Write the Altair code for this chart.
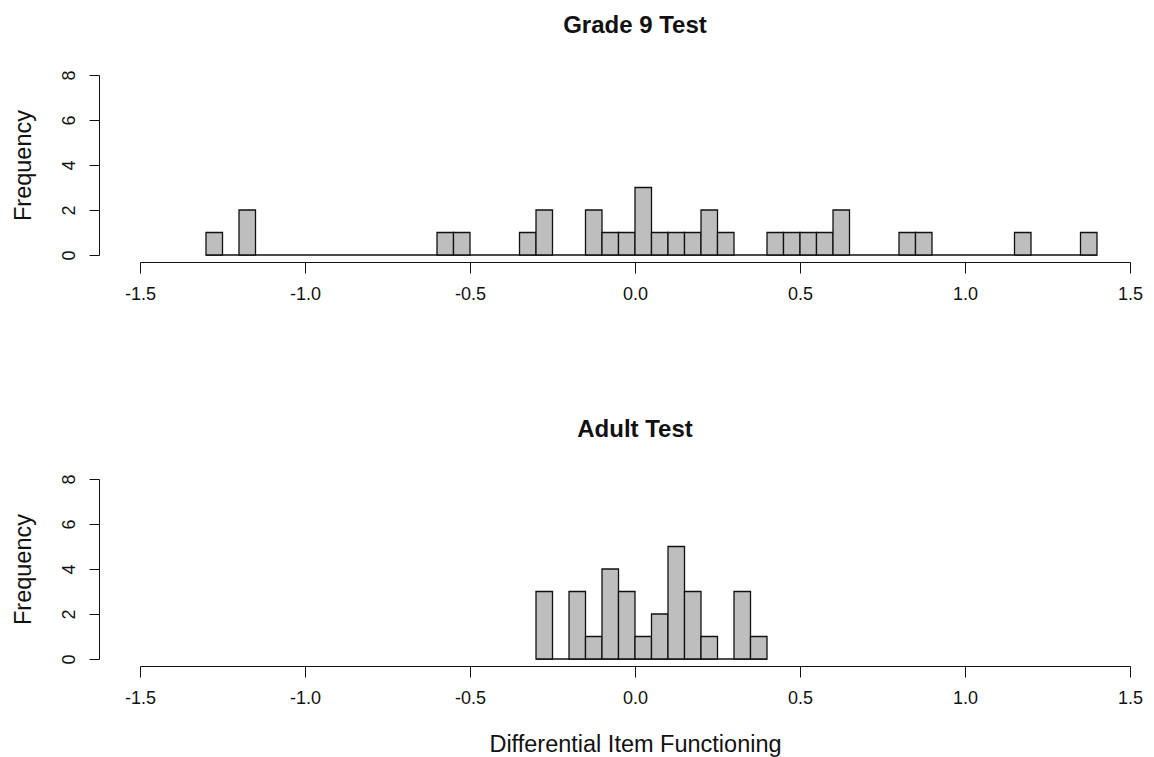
import altair as alt
import pandas as pd

FONT = "Liberation Sans"
INK = "#111111"
BIN_WIDTH = 0.05

# Grade 9 test: left edges of the non-empty bins and their counts
grade9_starts = [-1.30, -1.20, -0.60, -0.55, -0.35, -0.30, -0.15, -0.10, -0.05, 0.00,
                 0.05, 0.10, 0.15, 0.20, 0.25, 0.40, 0.45, 0.50, 0.55, 0.60,
                 0.80, 0.85, 1.15, 1.35]
grade9_counts = [1, 2, 1, 1, 1, 2, 2, 1, 1, 3,
                 1, 1, 1, 2, 1, 1, 1, 1, 1, 2,
                 1, 1, 1, 1]

# Adult test
adult_starts = [-0.30, -0.20, -0.15, -0.10, -0.05, 0.00, 0.05, 0.10, 0.15, 0.20, 0.30, 0.35]
adult_counts = [3, 3, 1, 4, 3, 1, 2, 5, 3, 1, 3, 1]

x_ticks = [-1.5, -1.0, -0.5, 0.0, 0.5, 1.0, 1.5]
y_ticks = [0, 2, 4, 6, 8]


def histogram(starts, counts, title, xtitle=None):
    bins = pd.DataFrame({"left": starts, "count": counts})
    bins["right"] = bins["left"] + BIN_WIDTH
    # empty bins between the first and last edge show as a line along zero
    base = pd.DataFrame({"lo": [min(starts)], "hi": [max(starts) + BIN_WIDTH], "zero": [0]})

    xs = alt.Scale(domain=[-1.5, 1.5], nice=False, zero=False)
    ys = alt.Scale(domain=[0, 8], nice=False)

    x_axis = alt.Axis(values=x_ticks, offset=7, tickSize=11, labelPadding=12,
                      labelExpr="replace(format(datum.value, '.1f'), '\u2212', '-')",
                      grid=False, domainColor=INK, tickColor=INK, labelColor=INK,
                      labelFontSize=18, labelFont=FONT, titleFont=FONT, titleFontSize=23.5,
                      titleFontWeight="normal", titleColor=INK, titlePadding=25,
                      labelFlush=False, title=xtitle)
    y_axis = alt.Axis(values=y_ticks, offset=41, tickSize=10, labelAngle=270, labelAlign="center",
                      labelBaseline="alphabetic", labelPadding=15, grid=False,
                      domainColor=INK, tickColor=INK, labelColor=INK,
                      labelFontSize=18, labelFont=FONT, titleFont=FONT, titleFontSize=23.5,
                      titleFontWeight="normal", titleColor=INK, titlePadding=25,
                      title="Frequency")

    baseline = alt.Chart(base).mark_rule(color=INK, strokeWidth=1.3).encode(
        x=alt.X("lo:Q", scale=xs, axis=x_axis),
        x2="hi:Q",
        y=alt.Y("zero:Q", scale=ys, axis=y_axis),
    )
    bars = alt.Chart(bins).mark_rect(fill="#BEBEBE", stroke=INK, strokeWidth=1.3).encode(
        x=alt.X("left:Q", scale=xs, axis=x_axis),
        x2="right:Q",
        y=alt.Y("count:Q", scale=ys, axis=y_axis),
        y2=alt.datum(0),
    )
    return alt.layer(baseline, bars).properties(
        width=990, height=180,
        title=alt.TitleParams(title, fontSize=24, fontWeight="bold", font=FONT,
                              color=INK, offset=32, anchor="middle"),
    )


top = histogram(grade9_starts, grade9_counts, "Grade 9 Test")
bottom = histogram(adult_starts, adult_counts, "Adult Test", "Differential Item Functioning")

chart = alt.vconcat(top, bottom, spacing=224, bounds="flush").properties(
    padding={"left": 11, "top": 13, "right": 5, "bottom": 5},
).configure_view(stroke=None)

chart.save("out.html", embed_options={"renderer": "svg", "actions": False})
